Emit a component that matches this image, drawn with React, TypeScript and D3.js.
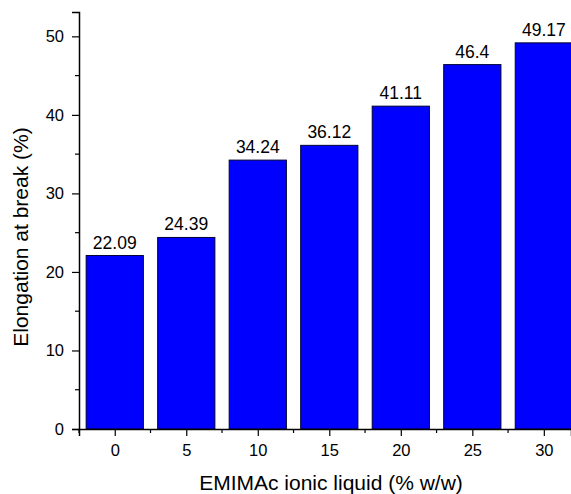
import React, { useEffect, useRef } from 'react';
import * as d3 from 'd3';

const categories = [0, 5, 10, 15, 20, 25, 30];
const elongation = [22.09, 24.39, 34.24, 36.12, 41.11, 46.4, 49.17];
const valueLabels = ['22.09', '24.39', '34.24', '36.12', '41.11', '46.4', '49.17'];
const yTicks = [0, 10, 20, 30, 40, 50];
const yMinorTicks = [5, 15, 25, 35, 45];

const App = () => {
  const svgRef = useRef<SVGSVGElement>(null);
  const width = 571;
  const height = 494;
  const margin = { top: 12, right: 0, bottom: 65, left: 79 };

  useEffect(() => {
    if (!svgRef.current) return;
    const svg = d3.select(svgRef.current);
    svg.selectAll('*').remove();

    const font = 'Arial, "Liberation Sans", sans-serif';

    const x = d3.scaleLinear()
      .domain([-2.5, 31.9])
      .range([margin.left, width - margin.right]);
    const y = d3.scaleLinear()
      .domain([0, 53.1])
      .range([height - margin.bottom, margin.top]);

    const barW = x(4) - x(0);

    // bars
    svg.selectAll('rect.bar')
      .data(elongation)
      .enter()
      .append('rect')
      .attr('class', 'bar')
      .attr('x', (d, i) => x(categories[i]) - barW / 2)
      .attr('y', d => y(d))
      .attr('width', barW)
      .attr('height', d => y(0) - y(d))
      .attr('fill', '#0000ff')
      .attr('stroke', '#000033')
      .attr('stroke-width', 1);

    // value labels
    svg.selectAll('text.value')
      .data(elongation)
      .enter()
      .append('text')
      .attr('class', 'value')
      .attr('x', (d, i) => x(categories[i]))
      .attr('y', d => y(d) - 7)
      .attr('text-anchor', 'middle')
      .attr('font-family', font)
      .attr('font-size', 17.5)
      .attr('fill', '#000')
      .text((d, i) => valueLabels[i]);

    // x axis
    const xAxis = d3.axisBottom(x)
      .tickValues(categories)
      .tickSize(7)
      .tickPadding(8)
      .tickFormat(d => String(d));
    const gx = svg.append('g')
      .attr('transform', `translate(0,${y(0)})`)
      .call(xAxis);
    gx.select('.domain').attr('stroke-width', 1.5);
    gx.selectAll('.tick line').attr('stroke-width', 1.2);
    gx.selectAll('.tick text')
      .attr('font-family', font)
      .attr('font-size', 16.5)
      .attr('fill', '#000');
    gx.selectAll('line.minor')
      .data(categories.map(c => c - 2.5).concat([32.5]))
      .enter()
      .append('line')
      .attr('class', 'minor')
      .attr('x1', d => x(d))
      .attr('x2', d => x(d))
      .attr('y1', 0)
      .attr('y2', 4)
      .attr('stroke', '#000')
      .attr('stroke-width', 1.2);

    // y axis
    const yAxis = d3.axisLeft(y)
      .tickValues(yTicks)
      .tickSize(7)
      .tickPadding(8)
      .tickFormat(d => String(d));
    const gy = svg.append('g')
      .attr('transform', `translate(${margin.left},0)`)
      .call(yAxis);
    gy.select('.domain').attr('stroke-width', 1.5);
    gy.selectAll('.tick line').attr('stroke-width', 1.2);
    gy.selectAll('.tick text')
      .attr('font-family', font)
      .attr('font-size', 16.5)
      .attr('fill', '#000');
    gy.selectAll('line.minor')
      .data(yMinorTicks)
      .enter()
      .append('line')
      .attr('class', 'minor')
      .attr('x1', 0)
      .attr('x2', -4)
      .attr('y1', d => y(d))
      .attr('y2', d => y(d))
      .attr('stroke', '#000')
      .attr('stroke-width', 1.2);

    // axis titles
    svg.append('text')
      .attr('x', 331)
      .attr('y', 490)
      .attr('text-anchor', 'middle')
      .attr('font-family', font)
      .attr('font-size', 21)
      .text('EMIMAc ionic liquid (% w/w)');

    svg.append('text')
      .attr('transform', `translate(28,237) rotate(-90)`)
      .attr('text-anchor', 'middle')
      .attr('font-family', font)
      .attr('font-size', 21)
      .text('Elongation at break (%)');
  }, []);

  return (
    <svg
      ref={svgRef}
      width={width}
      height={height}
      style={{ position: 'absolute', left: 0, top: 0, background: '#fff' }}
    />
  );
};

export default App;
